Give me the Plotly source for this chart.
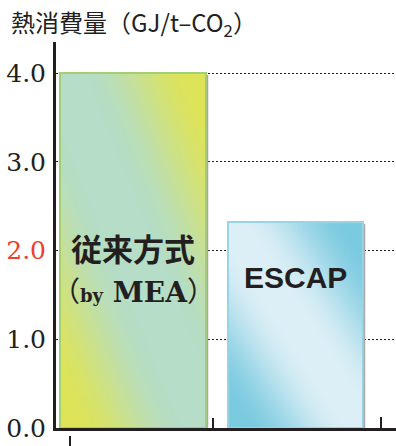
import zlib, struct, base64
import plotly.graph_objects as go

# ---------------- data ----------------
categories = ["従来方式 (by MEA)", "ESCAP"]
values = [4.0, 2.32]
tick_vals = [0, 1, 2, 3, 4]
tick_text = ["0.0", "1.0", "<span style=\"color:#e8412c\">2.0</span>", "3.0", "4.0"]

# ---------------- layout constants (pixel-like x axis units) ----------------
bar_centers = [77, 239.5]
bar_widths = [146, 135]
PX_PER_UNIT = 88.75
INK = "#231f20"


def smooth(a, b, x):
    t = min(max((x - a) / (b - a), 0.0), 1.0)
    return t * t * (3 - 2 * t)


def mix(c1, c2, f):
    return tuple(int(round(c1[k] + (c2[k] - c1[k]) * f)) for k in range(3))


def png_uri(w, h, fn):
    raw = bytearray()
    for j in range(h):
        raw.append(0)
        v = 1 - j / (h - 1)
        for i in range(w):
            u = i / (w - 1)
            raw += bytes(fn(u, v))

    def chunk(t, d):
        c = struct.pack(">I", len(d)) + t + d
        return c + struct.pack(">I", zlib.crc32(t + d) & 0xffffffff)

    png = (b"\x89PNG\r\n\x1a\n"
           + chunk(b"IHDR", struct.pack(">IIBBBBB", w, h, 8, 2, 0, 0, 0))
           + chunk(b"IDAT", zlib.compress(bytes(raw), 9))
           + chunk(b"IEND", b""))
    return "data:image/png;base64," + base64.b64encode(png).decode()


def grad1(u, v):
    mint, yellow = (181, 221, 199), (222, 228, 88)
    t = abs(u + v - 1)
    return mix(mint, yellow, smooth(0.15, 0.92, t))


def grad2(u, v):
    light, cyan = (220, 239, 246), (122, 202, 224)
    t = abs(u + v - 1)
    return mix(light, cyan, smooth(0.1, 0.9, t))


grads = [png_uri(50, 120, grad1), png_uri(50, 80, grad2)]
fill_colors = ["#c4dfa8", "#b3e0ee"]
line_colors = ["#a3cf72", "#98d3e6"]

fig = go.Figure()
fig.add_trace(go.Bar(
    x=bar_centers, y=values, width=bar_widths,
    marker=dict(color=fill_colors, line=dict(color=line_colors, width=2)),
    hoverinfo="skip", showlegend=False,
))

images = []
for c, w, v, src in zip(bar_centers, bar_widths, values, grads):
    images.append(dict(
        source=src, xref="x", yref="y",
        x=c - w / 2 + 1, y=v - 1 / PX_PER_UNIT,
        sizex=w - 2, sizey=v - 2 / PX_PER_UNIT,
        xanchor="left", yanchor="top", sizing="stretch", layer="above",
    ))

annotations = [
    dict(text="熱消費量（GJ/t–CO<sub>2</sub>）", xref="paper", yref="paper",
         x=(9 - 56) / 340, y=(428 - 23) / 386, xanchor="left", yanchor="middle",
         showarrow=False, font=dict(family="Noto Sans CJK JP", size=24, color=INK)),
    dict(text="<b>従来方式</b>", xref="x", yref="y", x=bar_centers[0], y=2.03,
         showarrow=False, font=dict(family="Noto Sans CJK JP", size=31, color=INK)),
    dict(text="<span style=\"font-family:Noto Sans CJK JP\">（</span><b><span style=\"font-size:18px\">by</span> MEA</b><span style=\"font-family:Noto Sans CJK JP\">）</span>",
         xref="x", yref="y", x=bar_centers[0], y=1.55,
         showarrow=False, font=dict(family="DejaVu Serif", size=28, color=INK)),
    dict(text="<b>ESCAP</b>", xref="x", yref="y", x=bar_centers[1], y=1.70,
         showarrow=False, font=dict(family="Liberation Sans", size=30, color=INK)),
]

shapes = []
for px, y0, y1 in [(70, 436, 446), (213, 418, 428), (381, 417, 428)]:
    shapes.append(dict(type="line", xref="paper", yref="paper",
                       x0=(px - 56) / 340, x1=(px - 56) / 340,
                       y0=(428 - y0) / 386, y1=(428 - y1) / 386,
                       line=dict(color=INK, width=2)))
# thin grey shadow along the right edge of each bar
for c, w, v in zip(bar_centers, bar_widths, values):
    shapes.append(dict(type="line", xref="x", yref="y",
                       x0=c + w / 2 + 1.5, x1=c + w / 2 + 1.5,
                       y0=0, y1=v - 2 / PX_PER_UNIT,
                       line=dict(color="#a9a9a9", width=1.5), layer="above"))

fig.update_layout(
    width=396, height=446,
    margin=dict(l=56, r=0, t=42, b=18),
    paper_bgcolor="white", plot_bgcolor="white",
    bargap=0,
    font=dict(family="DejaVu Serif", color=INK),
    images=images, annotations=annotations, shapes=shapes,
    xaxis=dict(range=[0, 340], showgrid=False, zeroline=False, showticklabels=False,
               ticks="", showline=True, linecolor=INK, linewidth=3, fixedrange=True),
    yaxis=dict(range=[0, 4.35], tickvals=tick_vals, ticktext=tick_text,
               tickfont=dict(family="DejaVu Serif", size=25, color=INK),
               showgrid=True, gridcolor=INK, gridwidth=1, griddash="2px,2px",
               zeroline=False, showline=True, linecolor=INK, linewidth=3,
               ticks="", ticklabelstandoff=2, fixedrange=True),
)

fig.write_html("out.html")
